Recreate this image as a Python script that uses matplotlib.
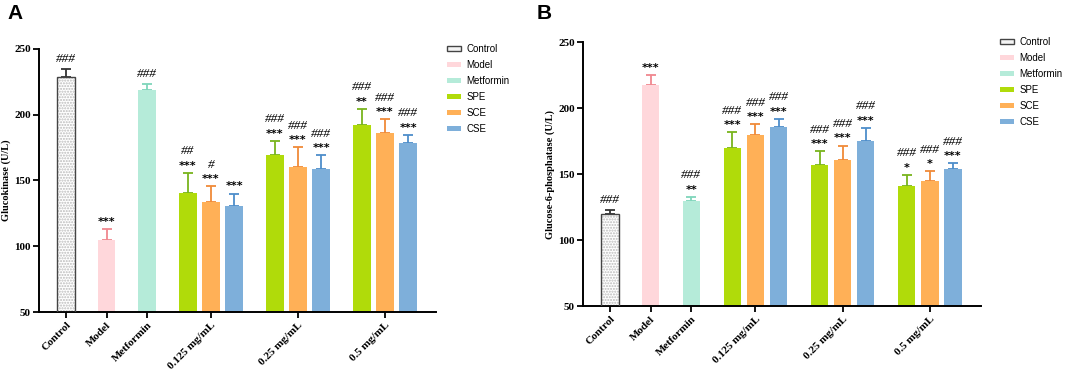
import numpy as np
import matplotlib
matplotlib.use("Agg")
import matplotlib.pyplot as plt
from matplotlib.patches import Patch

# data
groups = ["Control", "Model", "Metformin"]
doses = ["0.125 mg/mL", "0.25 mg/mL", "0.5 mg/mL"]
extracts = ["SPE", "SCE", "CSE"]

gk_single = [228.3, 104.9, 218.6]
gk_single_err = [6.2, 7.8, 4.6]
gk_spe = [140.3, 169.1, 192.4]
gk_sce = [133.2, 160.0, 185.8]
gk_cse = [130.7, 158.7, 178.7]
gk_spe_err = [15.6, 11.0, 12.0]
gk_sce_err = [12.4, 15.4, 10.6]
gk_cse_err = [9.3, 10.6, 6.0]
gk_single_sig = [("###", ""), ("", "***"), ("###", "")]
gk_spe_sig = [("##", "***"), ("###", "***"), ("###", "**")]
gk_sce_sig = [("#", "***"), ("###", "***"), ("###", "***")]
gk_cse_sig = [("", "***"), ("###", "***"), ("###", "***")]

g6p_single = [120.0, 217.4, 129.9]
g6p_single_err = [2.8, 7.8, 3.0]
g6p_spe = [170.1, 156.7, 141.0]
g6p_sce = [179.5, 160.7, 144.6]
g6p_cse = [186.0, 174.9, 153.9]
g6p_spe_err = [11.6, 11.0, 8.6]
g6p_sce_err = [8.5, 11.0, 7.8]
g6p_cse_err = [6.0, 10.4, 4.3]
g6p_single_sig = [("###", ""), ("", "***"), ("###", "**")]
g6p_spe_sig = [("###", "***"), ("###", "***"), ("###", "*")]
g6p_sce_sig = [("###", "***"), ("###", "***"), ("###", "*")]
g6p_cse_sig = [("###", "***"), ("###", "***"), ("###", "***")]

colors = {"Control": "#ffffff", "Model": "#ffd7db", "Metformin": "#b5ebd9",
          "SPE": "#b0db0a", "SCE": "#ffb057", "CSE": "#7eafda"}
err_colors = {"Control": "#333333", "Model": "#f0878f", "Metformin": "#7fd6bb",
              "SPE": "#78b41c", "SCE": "#f08a38", "CSE": "#4d8dca"}

serif = "Liberation Serif"
sans = "Liberation Sans"

single_x = np.array([0.0, 1.0, 2.0])
group_x = np.array([3.58, 5.73, 7.88])
offset = 0.57
width = 0.43


def annotate(ax, x, top, sig):
    hashes, stars = sig
    if stars:
        ax.annotate(stars, (x, top), xytext=(0, 1.5), textcoords="offset points",
                    ha="center", va="bottom", fontsize=8, family="DejaVu Sans",
                    fontweight="bold")
        if hashes:
            ax.annotate(hashes, (x, top), xytext=(0, 11), textcoords="offset points",
                        ha="center", va="bottom", fontsize=9.5, family=serif,
                        style="italic")
    elif hashes:
        ax.annotate(hashes, (x, top), xytext=(0, 3), textcoords="offset points",
                    ha="center", va="bottom", fontsize=9.5, family=serif,
                    style="italic")


def draw_bar(ax, x, val, err, name, sig):
    if name == "Control":
        ax.bar(x, val - 50, width, bottom=50, color="white", edgecolor="#bbbbbb",
               hatch="......", linewidth=0, zorder=2)
        ax.bar(x, val - 50, width, bottom=50, fill=False, edgecolor="#444444",
               linewidth=1.0, zorder=3)
    else:
        ax.bar(x, val - 50, width, bottom=50, color=colors[name], linewidth=0, zorder=2)
    ax.errorbar(x, val, yerr=[[0], [err]], fmt="none", ecolor=err_colors[name],
                elinewidth=1.3, capsize=3.5, capthick=1.3, zorder=1)
    annotate(ax, x, val + err, sig)


def panel(rect, ylabel, single, single_err, single_sig,
          spe, sce, cse, spe_err, sce_err, cse_err, spe_sig, sce_sig, cse_sig):
    ax = fig.add_axes(rect)
    for i, g in enumerate(groups):
        draw_bar(ax, single_x[i], single[i], single_err[i], g, single_sig[i])
    series = [(spe, spe_err, spe_sig), (sce, sce_err, sce_sig), (cse, cse_err, cse_sig)]
    for k, (vals, errs, sigs) in enumerate(series):
        for j in range(len(doses)):
            draw_bar(ax, group_x[j] + (k - 1) * offset, vals[j], errs[j], extracts[k], sigs[j])
    ax.set_xlim(-0.67, 9.14)
    ax.set_ylim(50, 250)
    ax.set_yticks([50, 100, 150, 200, 250])
    ax.set_xticks(np.concatenate([single_x, group_x]))
    ax.set_xticklabels(groups + doses, rotation=45, ha="right", rotation_mode="anchor",
                       family=serif, fontweight="bold", fontsize=8)
    for t in ax.get_yticklabels():
        t.set_family(serif)
        t.set_fontweight("bold")
        t.set_fontsize(8)
    ax.set_ylabel(ylabel, family=serif, fontweight="bold", fontsize=7.5)
    ax.yaxis.set_label_coords(-0.07, 0.5)
    ax.spines["top"].set_visible(False)
    ax.spines["right"].set_visible(False)
    ax.spines["left"].set_linewidth(1.4)
    ax.spines["bottom"].set_linewidth(1.4)
    ax.tick_params(axis="both", direction="out", length=4, width=1.3, pad=2)
    return ax


fig = plt.figure(figsize=(10.65, 3.73), dpi=100)

axA = panel([0.0366, 0.1635, 0.3728, 0.7059], "Glucokinase (U/L)",
            gk_single, gk_single_err, gk_single_sig,
            gk_spe, gk_sce, gk_cse, gk_spe_err, gk_sce_err, gk_cse_err,
            gk_spe_sig, gk_sce_sig, gk_cse_sig)
axB = panel([0.5474, 0.1796, 0.3737, 0.7070], "Glucose-6-phosphatase (U/L)",
            g6p_single, g6p_single_err, g6p_single_sig,
            g6p_spe, g6p_sce, g6p_cse, g6p_spe_err, g6p_sce_err, g6p_cse_err,
            g6p_spe_sig, g6p_sce_sig, g6p_cse_sig)

fig.text(0.007, 0.99, "A", family=sans, fontweight="bold", fontsize=15, va="top")
fig.text(0.504, 0.99, "B", family=sans, fontweight="bold", fontsize=15, va="top")

handles = []
for name in groups + extracts:
    if name == "Control":
        handles.append(Patch(facecolor="#f4f4f4", edgecolor="#444444", linewidth=1.0))
    else:
        handles.append(Patch(facecolor=colors[name], edgecolor="none"))

for x0, y0 in [(447 / 1065, 1 - 44 / 373), (1000 / 1065, 1 - 37 / 373)]:
    fig.legend(handles, groups + extracts, loc="upper left", bbox_to_anchor=(x0, y0),
               frameon=False, handlelength=1.4, handleheight=0.5,
               handletextpad=0.6, labelspacing=0.62, borderpad=0, borderaxespad=0,
               prop={"family": sans, "size": 7})

fig.savefig("out.png", dpi=100)
